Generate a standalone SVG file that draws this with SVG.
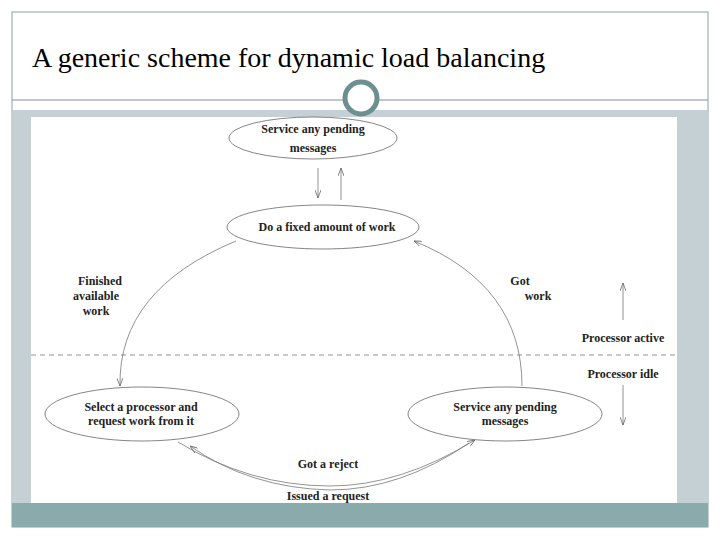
<svg xmlns="http://www.w3.org/2000/svg" width="720" height="540" viewBox="0 0 720 540">
<style>
.n{fill:#fff;stroke:#666;stroke-width:0.8}
.t{font-family:"Liberation Serif",serif;font-size:12px;font-weight:bold;fill:#222;text-anchor:middle}
.c{fill:none;stroke:#777;stroke-width:0.8;marker-end:url(#a)}
</style>
<defs><marker id="a" markerWidth="8" markerHeight="6" refX="8" refY="3" orient="auto" markerUnits="userSpaceOnUse"><path d="M0,0L8,3L0,6" fill="none" stroke="#666" stroke-width="0.8"/></marker></defs>
<rect x="12" y="12" width="696" height="515" fill="#fff" stroke="#8aa0a0"/>
<text x="32" y="67" font-family="Liberation Serif,serif" font-size="28" fill="#000">A generic scheme for dynamic load balancing</text>
<line x1="12" y1="100" x2="708" y2="100" stroke="#7d9393"/>
<rect x="12" y="110" width="696" height="393" fill="#c5d0d5"/>
<rect x="31" y="117" width="646" height="386" fill="#fff"/>
<rect x="12" y="503" width="696" height="24" fill="#8aabab"/>
<circle cx="361" cy="98" r="16" fill="#fff" stroke="#6d8f8f" stroke-width="5"/>
<line x1="31" y1="355" x2="677" y2="355" stroke="#777" stroke-dasharray="5,4" stroke-width="0.8"/>
<g id="connectors">
<path class="c" d="M318,168V198"/>
<path class="c" d="M341,200V168"/>
<path class="c" d="M236,241Q118,290 120,386"/>
<path class="c" d="M522,386Q522,285 414,241"/>
<path class="c" d="M178,442Q250,486 330,486Q400,486 475,440"/>
<path class="c" d="M469,443Q400,490 330,490Q250,488 190,446"/>
<path class="c" d="M623,320V283"/>
<path class="c" d="M623,385V425"/>
</g>
<g id="n1"><ellipse class="n" cx="313" cy="138" rx="84" ry="21"/><text class="t" x="313" y="133">Service any pending</text><text class="t" x="313" y="152">messages</text></g>
<g id="n2"><ellipse class="n" cx="323" cy="227" rx="96" ry="22"/><text class="t" x="327" y="231">Do a fixed amount of work</text></g>
<g id="n3"><ellipse class="n" cx="142" cy="414" rx="97" ry="27"/><text class="t" x="141" y="411">Select a processor and</text><text class="t" x="141" y="425">request work from it</text></g>
<g id="n4"><ellipse class="n" cx="505" cy="414" rx="97" ry="27"/><text class="t" x="505" y="411">Service any pending</text><text class="t" x="505" y="425">messages</text></g>
<g class="t">
<text x="100" y="285">Finished</text><text x="96" y="300">available</text><text x="96" y="315">work</text>
<text x="520" y="285">Got</text><text x="538" y="300">work</text>
<text x="623" y="342">Processor active</text><text x="623" y="378">Processor idle</text>
<text x="328" y="468">Got a reject</text><text x="328" y="500">Issued a request</text>
</g>
</svg>
